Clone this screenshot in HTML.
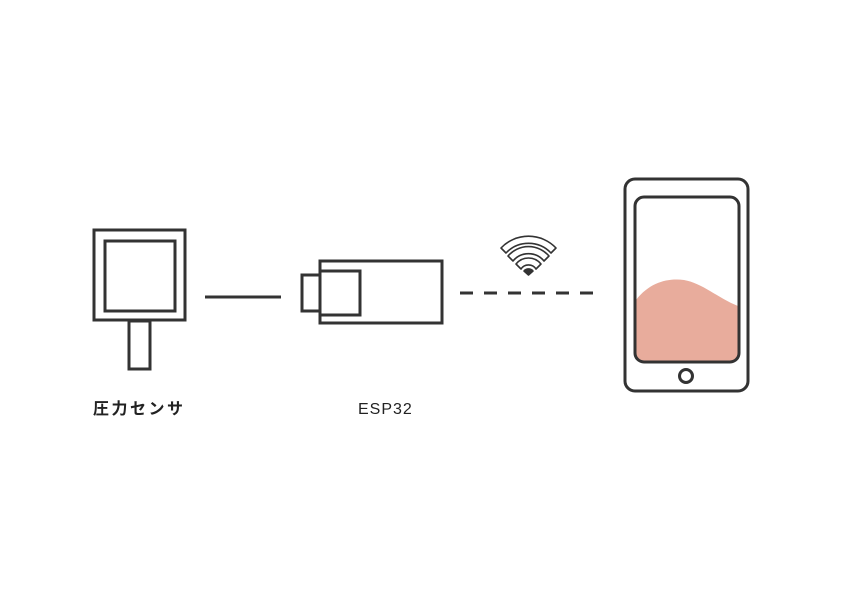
<!DOCTYPE html>
<html><head><meta charset="utf-8"><style>
body{margin:0;background:#fff;width:842px;height:595px;overflow:hidden}
</style></head><body>
<svg width="842" height="595" viewBox="0 0 842 595" xmlns="http://www.w3.org/2000/svg">
<g fill="none" stroke="#333" stroke-width="3">
<rect x="94" y="230" width="91" height="90"/>
<rect x="105" y="241" width="70" height="70"/>
<rect x="129" y="321" width="21" height="48"/>
<line x1="205" y1="297" x2="281" y2="297"/>
<rect x="320" y="261" width="122" height="62"/>
<rect x="320" y="271" width="40" height="44"/>
<rect x="302" y="275" width="18" height="36"/>
<line x1="460" y1="293" x2="594" y2="293" stroke-dasharray="13,11"/>
</g>
<path d="M636 300 C650 282 668 278 684 280 C702 283 718 298 738 306 L738 352 Q738 361 729 361 L644 361 Q636 361 636 352 Z" fill="#e8ac9c"/>
<g fill="none" stroke="#333" stroke-width="3">
<rect x="625" y="179" width="123" height="212" rx="10"/>
<rect x="635" y="197" width="104" height="165" rx="9"/>
<circle cx="686" cy="376" r="6.5"/>
</g>
<g fill="none" stroke="#333" stroke-width="1.6" stroke-linejoin="round">
<path d="M501 248 A38 38 0 0 1 556 248 L551 253 A31 31 0 0 0 506 253 Z"/>
<path d="M508 256 A27 27 0 0 1 549 256 L544 261 A20 20 0 0 0 513 261 Z"/>
<path d="M516 264 A16 16 0 0 1 541 264 L536 269 A9 9 0 0 0 521 269 Z"/>
<path d="M524 271 A6 6 0 0 1 533 271 L528.5 275 Z" fill="#333"/>
</g>
<text x="93" y="414" font-family="'Liberation Sans','Noto Sans CJK JP',sans-serif" font-size="16" font-weight="bold" fill="#222" letter-spacing="2.5">圧力センサ</text>
<text x="358" y="414" font-family="'Liberation Sans','Noto Sans CJK JP',sans-serif" font-size="16" fill="#222" letter-spacing="1">ESP32</text>
</svg>
</body></html>
